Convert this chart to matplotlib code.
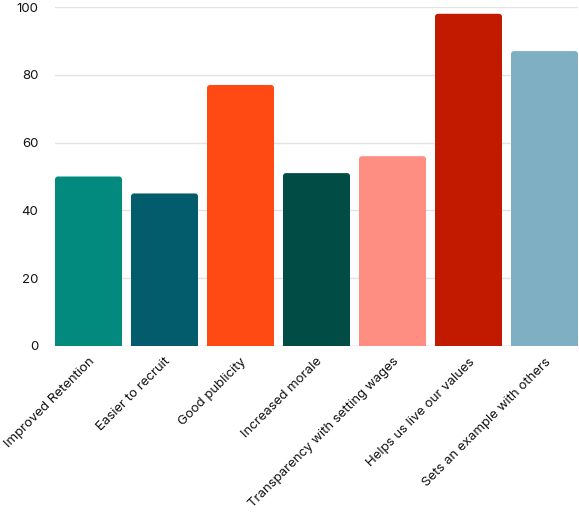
import matplotlib.pyplot as plt
from matplotlib.patches import FancyBboxPatch

categories = ['Improved Retention', 'Easier to recruit', 'Good publicity',
              'Increased morale', 'Transparency with setting wages',
              'Helps us live our values', 'Sets an example with others']
values = [50, 45, 77, 51, 56, 98, 87]
colors = ['#028A7F', '#035C6B', '#FF4A14', '#014D45', '#FF8E82', '#C21A00', '#7FAFC2']

plt.rcParams['font.family'] = ['Inter', 'DejaVu Sans']

fig = plt.figure(figsize=(5.79, 5.15), dpi=100)
ax = fig.add_axes([55 / 579, 169 / 515, 523 / 579, 339 / 515])

bw = 67 / 76
x = range(len(values))
bars = ax.bar(x, values, width=bw, color=colors, zorder=2)

ax.set_xlim(-bw / 2, len(values) - 1 + bw / 2)
ax.set_ylim(0, 100)

# swap the plain rectangles for ones with slightly rounded tops
px_x = 523 / (len(values) - 1 + bw)
px_y = 339 / 100
r = 3 / px_x
for b in bars:
    bx, by = b.get_x(), b.get_y()
    w, h = b.get_width(), b.get_height()
    rp = FancyBboxPatch((bx, by - 5), w, h + 5,
                        boxstyle=f'round,pad=0,rounding_size={r}',
                        mutation_aspect=px_x / px_y,
                        facecolor=b.get_facecolor(), edgecolor='none',
                        zorder=2, clip_on=True)
    b.set_visible(False)
    ax.add_patch(rp)

ax.set_yticks([0, 20, 40, 60, 80, 100])
ax.grid(axis='y', color='#E3E3E3', linewidth=1, zorder=0)
ax.axhline(0, color='#D3D3D3', linewidth=1, zorder=1)
ax.set_xticks(list(x))
ax.set_xticklabels(categories, rotation=45, ha='right', rotation_mode='anchor')
ax.tick_params(axis='both', length=0, labelsize=9.5, colors='#111111')
ax.tick_params(axis='x', pad=7)
ax.tick_params(axis='y', pad=12)
for s in ax.spines.values():
    s.set_visible(False)

fig.savefig('out.png', dpi=100)
